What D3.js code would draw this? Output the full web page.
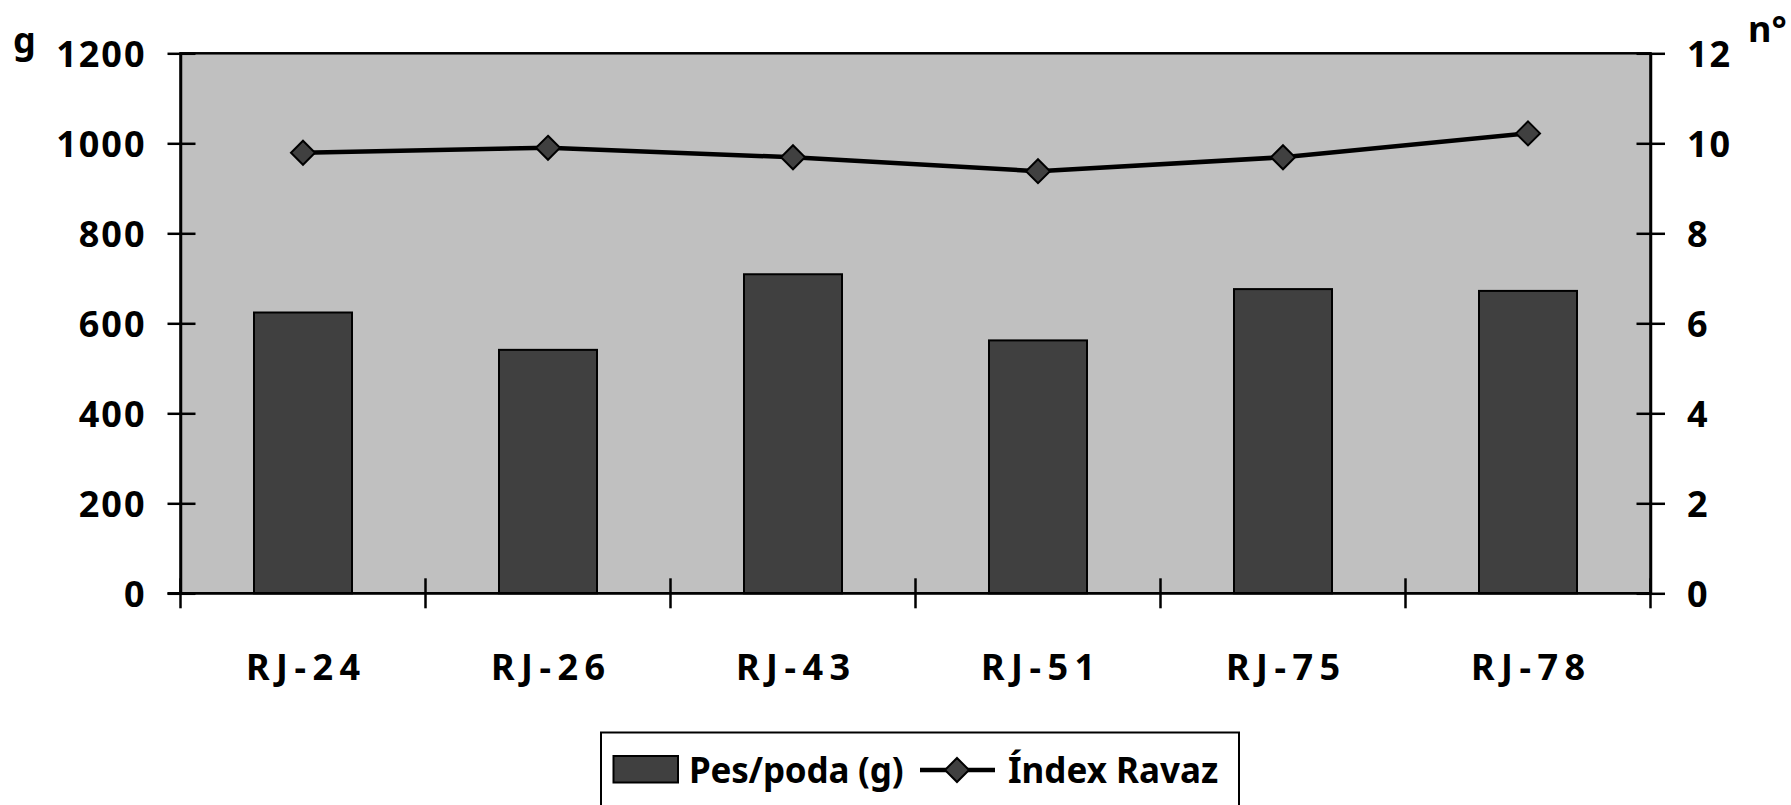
<!DOCTYPE html>
<html>
<head>
<meta charset="utf-8">
<script src="https://cdn.jsdelivr.net/npm/d3@7"></script>
<style>
  html, body { margin: 0; padding: 0; background: #fff; }
  svg { display: block; }
  text { font-family: "Noto Sans", "DejaVu Sans", sans-serif; font-weight: bold; fill: #000; }
</style>
</head>
<body>
<svg id="chart" width="1791" height="805"></svg>
<script>
// ---- data ----
const categories = ["RJ-24", "RJ-26", "RJ-43", "RJ-51", "RJ-75", "RJ-78"];
const pesPoda = [624, 541, 709, 562, 676, 672];          // g (left axis)
const indexRavaz = [9.79, 9.90, 9.69, 9.38, 9.69, 10.22]; // nº (right axis)
const leftTicks = [0, 200, 400, 600, 800, 1000, 1200];
const rightTicks = [0, 2, 4, 6, 8, 10, 12];
const seriesNames = ["Pes/poda (g)", "Índex Ravaz"];
const leftUnit = "g";
const rightUnit = "n°";

// ---- layout ----
const W = 1791, H = 805;
const plot = { left: 180.5, right: 1650.5, top: 53.3, bottom: 593.3 };
const FS = 36;

const svg = d3.select("#chart");

const x = d3.scaleBand().domain(categories).range([plot.left, plot.right]).padding(0);
const y = d3.scaleLinear().domain([0, 1200]).range([plot.bottom, plot.top]);
const y2 = d3.scaleLinear().domain([0, 12]).range([plot.bottom, plot.top]);
const barW = x.bandwidth() / 2.5;

// plot background
svg.append("rect")
  .attr("x", plot.left).attr("y", plot.top)
  .attr("width", plot.right - plot.left).attr("height", plot.bottom - plot.top)
  .attr("fill", "#c0c0c0");

// bars
svg.append("g").selectAll("rect").data(categories).join("rect")
  .attr("x", (d) => x(d) + (x.bandwidth() - barW) / 2)
  .attr("y", (d, i) => y(pesPoda[i]))
  .attr("width", barW)
  .attr("height", (d, i) => y(0) - y(pesPoda[i]))
  .attr("fill", "#404040")
  .attr("stroke", "#000")
  .attr("stroke-width", 2);

// plot frame
svg.append("rect")
  .attr("x", plot.left).attr("y", plot.top)
  .attr("width", plot.right - plot.left).attr("height", plot.bottom - plot.top)
  .attr("fill", "none").attr("stroke", "#000").attr("stroke-width", 2.5);

// left axis
const gL = svg.append("g").attr("transform", `translate(${plot.left},0)`)
  .call(d3.axisLeft(y).tickValues(leftTicks).tickFormat(d3.format("d")).tickSizeOuter(0));
gL.select(".domain").attr("stroke", "#000").attr("stroke-width", 2.5);
gL.selectAll(".tick line").attr("x1", -13).attr("x2", 15).attr("stroke", "#000").attr("stroke-width", 2.5);
gL.selectAll(".tick text").attr("x", -34).attr("dy", "0.36em")
  .style("font-size", FS + "px").style("font-family", '"Noto Sans", sans-serif').style("font-weight", "bold")
  .style("letter-spacing", "2px");

// right axis
const gR = svg.append("g").attr("transform", `translate(${plot.right},0)`)
  .call(d3.axisRight(y2).tickValues(rightTicks).tickFormat(d3.format("d")).tickSizeOuter(0));
gR.select(".domain").attr("stroke", "#000").attr("stroke-width", 2.5);
gR.selectAll(".tick line").attr("x1", -14).attr("x2", 14.5).attr("stroke", "#000").attr("stroke-width", 2.5);
gR.selectAll(".tick text").attr("x", 36.5).attr("dy", "0.36em")
  .style("font-size", FS + "px").style("font-family", '"Noto Sans", sans-serif').style("font-weight", "bold")
  .style("letter-spacing", "2px");

// bottom axis: ticks at category boundaries, labels at centres
const boundaries = categories.map((c) => x(c)).concat([x.range()[1]]);
svg.append("g").selectAll("line").data(boundaries).join("line")
  .attr("x1", (d) => d).attr("x2", (d) => d)
  .attr("y1", plot.bottom - 15).attr("y2", plot.bottom + 15)
  .attr("stroke", "#000").attr("stroke-width", 2.5);
svg.append("line")
  .attr("x1", plot.left - 13).attr("x2", plot.right)
  .attr("y1", plot.bottom).attr("y2", plot.bottom)
  .attr("stroke", "#000").attr("stroke-width", 2.5);

const ls = 6.5;
svg.append("g").selectAll("text").data(categories).join("text")
  .attr("x", (d) => x(d) + x.bandwidth() / 2 + ls / 2)
  .attr("y", 680)
  .attr("text-anchor", "middle")
  .style("font-size", FS + "px")
  .style("letter-spacing", ls + "px")
  .text((d) => d);

// line series
const cx = (d) => x(d) + x.bandwidth() / 2;
const line = d3.line().x((d, i) => cx(categories[i])).y((d) => y2(d));
svg.append("path").datum(indexRavaz)
  .attr("d", line).attr("fill", "none").attr("stroke", "#000").attr("stroke-width", 4.5)
  .attr("stroke-linejoin", "round");

const diamond = (r) => `M0,${-r}L${r},0L0,${r}L${-r},0Z`;
svg.append("g").selectAll("path").data(indexRavaz).join("path")
  .attr("transform", (d, i) => `translate(${cx(categories[i])},${y2(d)})`)
  .attr("d", diamond(12))
  .attr("fill", "#404040").attr("stroke", "#000").attr("stroke-width", 2);

// unit labels
svg.append("text").attr("x", 13).attr("y", 53).style("font-size", FS + "px").text(leftUnit);
svg.append("text").attr("x", 1748).attr("y", 42).style("font-size", FS + "px").text(rightUnit);

// legend
const lg = svg.append("g");
lg.append("rect").attr("x", 601).attr("y", 732.5).attr("width", 638).attr("height", 100)
  .attr("fill", "#fff").attr("stroke", "#000").attr("stroke-width", 2);
lg.append("rect").attr("x", 613.5).attr("y", 756).attr("width", 64.5).attr("height", 26.5)
  .attr("fill", "#404040").attr("stroke", "#000").attr("stroke-width", 2);
lg.append("text").attr("x", 689).attr("y", 783).style("font-size", "35px").style("letter-spacing", "-0.2px").text(seriesNames[0]);
lg.append("line").attr("x1", 920).attr("x2", 995).attr("y1", 770).attr("y2", 770)
  .attr("stroke", "#000").attr("stroke-width", 4.5);
lg.append("path").attr("transform", "translate(957,770)").attr("d", diamond(12))
  .attr("fill", "#404040").attr("stroke", "#000").attr("stroke-width", 2);
lg.append("text").attr("x", 1008).attr("y", 783).style("font-size", "35px").style("letter-spacing", "0px").text(seriesNames[1]);
</script>
</body>
</html>
